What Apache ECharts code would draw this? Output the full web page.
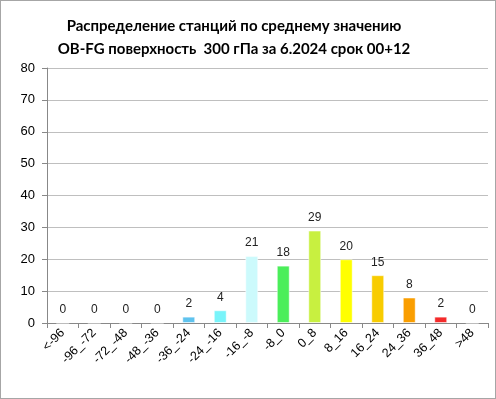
<!DOCTYPE html>
<html>
<head>
<meta charset="utf-8">
<script src="https://cdn.jsdelivr.net/npm/echarts@6/dist/echarts.min.js"></script>
<style>
  html, body { margin: 0; padding: 0; background: #fff; }
  #main { width: 494px; height: 397px; border: 1px solid #a6a6a6; }
</style>
</head>
<body>
<div id="main"></div>
<script>
var categories = ['<-96', '-96_-72', '-72_-48', '-48_-36', '-36_-24', '-24_-16', '-16_-8',
  '-8_0', '0_8', '8_16', '16_24', '24_36', '36_48', '>48'];
var counts = [0, 0, 0, 0, 2, 4, 21, 18, 29, 20, 15, 8, 2, 0];
var barColors = ['#5fc3ee', '#5fc3ee', '#5fc3ee', '#5fc3ee', '#5fc3ee', '#78f4fa', '#ccfafc',
  '#4bee5a', '#c8f040', '#ffff00', '#f8cc00', '#fa9e00', '#f42a2a', '#f42a2a'];
var yTicks = [0, 80, 10];

var chartDom = document.getElementById('main');
var myChart = echarts.init(chartDom);

var option = {
  animation: false,
  title: {
    text: 'Распределение станций по среднему значению\nOB-FG поверхность  300 гПа за 6.2024 срок 00+12',
    left: 228,
    textAlign: 'center',
    top: 9,
    textStyle: {
      fontFamily: 'Lato',
      fontSize: 15,
      fontWeight: 'bold',
      color: '#000',
      lineHeight: 23
    }
  },
  grid: {
    left: 46,
    right: 7,
    top: 67,
    bottom: 75,
    containLabel: false
  },
  xAxis: {
    type: 'category',
    data: categories,
    axisLine: { lineStyle: { color: '#888' } },
    axisTick: { show: true, length: 5, lineStyle: { color: '#888' } },
    axisLabel: {
      interval: 0,
      rotate: 45,
      color: '#000',
      fontFamily: 'Liberation Sans',
      fontSize: 12.5,
      margin: 8
    }
  },
  yAxis: {
    type: 'value',
    min: yTicks[0],
    max: yTicks[1],
    interval: yTicks[2],
    axisLine: { show: true, lineStyle: { color: '#888' } },
    axisTick: { show: true, length: 5, lineStyle: { color: '#888' } },
    axisLabel: {
      color: '#000',
      fontFamily: 'Liberation Sans',
      fontSize: 13,
      margin: 12
    },
    splitLine: { lineStyle: { color: '#bfbfbf' } }
  },
  series: [
    {
      type: 'bar',
      barWidth: '41%',
      data: counts.map(function (v, i) {
        return {
          value: v,
          itemStyle: { color: barColors[i], borderColor: 'rgba(255,255,255,0.5)', borderWidth: 1 }
        };
      }),
      label: {
        show: true,
        position: 'top',
        distance: 7,
        color: '#222',
        fontFamily: 'Liberation Sans',
        fontSize: 12
      }
    }
  ]
};

option && myChart.setOption(option);
</script>
</body>
</html>
